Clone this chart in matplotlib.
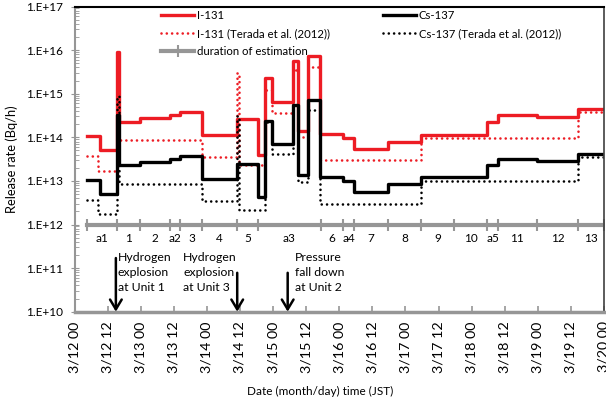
"""
Release rate of I-131 and Cs-137, March 2011 (step chart, log scale)
"""
import matplotlib

matplotlib.use("Agg")
import matplotlib.pyplot as plt
import numpy as np
from matplotlib.ticker import FuncFormatter, LogLocator, NullFormatter

plt.rcParams["font.family"] = ["Lato", "DejaVu Sans"]

# ==========================================================
# Data (time in hours from 3/12 00:00 JST, rate in Bq/h)
# ==========================================================
END_HOUR = 192

i131_t = [4.6, 9.4, 15.4, 16.1, 23.8, 34.6, 38.4, 46.4, 58.8, 66.5, 69.2, 71.6,
          79.1, 81.0, 84.6, 89.2, 97.4, 101.5, 113.6, 125.6, 137.6, 149.6,
          153.6, 167.6, 182.6]
i131_v = [1.05e14, 5.1e13, 8.9e15, 2.3e14, 2.7e14, 3.3e14, 3.9e14, 1.1e14,
          2.6e14, 3.9e13, 2.3e15, 6.6e14, 5.5e15, 1.4e14, 7.4e15, 1.2e14,
          9.5e13, 5.3e13, 7.9e13, 1.15e14, 1.1e14, 2.3e14, 3.2e14, 2.95e14,
          4.4e14]

cs137_t = [4.6, 9.2, 15.4, 16.1, 23.8, 34.6, 38.4, 46.4, 58.8, 66.5, 69.2,
           71.6, 79.1, 81.0, 84.6, 89.2, 97.4, 101.5, 113.6, 125.6, 149.6,
           153.6, 167.6, 182.6]
cs137_v = [1.05e13, 4.9e12, 3.2e14, 2.3e13, 2.7e13, 3.1e13, 3.7e13, 1.1e13,
           2.5e13, 4.2e12, 2.4e14, 7.0e13, 5.5e14, 1.4e13, 7.3e14, 1.2e13,
           1.0e13, 5.6e12, 8.3e12, 1.2e13, 2.3e13, 3.2e13, 2.9e13, 4.1e13]

i131_terada_t = [4.6, 8.6, 15.4, 46.4, 58.8, 59.5, 69.2, 71.6, 79.1, 81.0,
                 84.6, 89.2, 125.6, 182.6]
i131_terada_v = [3.7e13, 1.7e13, 8.7e13, 3.6e13, 3.0e15, 2.3e13, 1.2e15,
                 3.6e14, 3.5e15, 1.0e14, 4.0e15, 3.0e13, 9.7e13, 3.9e14]

cs137_terada_t = [4.6, 8.6, 15.4, 16.1, 46.4, 58.8, 59.5, 69.2, 71.6, 79.1,
                  81.0, 84.6, 89.2, 125.6, 182.6]
cs137_terada_v = [3.7e12, 1.7e12, 9.0e14, 8.4e12, 3.5e12, 3.1e14, 2.2e12,
                  2.2e14, 4.1e13, 4.0e14, 9.5e12, 4.3e14, 3.0e12, 1.0e13,
                  3.6e13]

# estimation periods
seg_bounds = [4.6, 15.4, 23.8, 34.6, 38.4, 46.4, 58.8, 66.5, 89.4, 97.4, 101.5,
              113.6, 125.6, 137.6, 149.6, 153.6, 167.6, 182.6, END_HOUR]
seg_labels = ["a1", "1", "2", "a2", "3", "4", "5", "a3", "6", "a4", "7", "8",
              "9", "10", "a5", "11", "12", "13"]

tick_hours = list(range(0, END_HOUR + 1, 12))
tick_labels = ["3/12 00", "3/12 12", "3/13 00", "3/13 12", "3/14 00",
               "3/14 12", "3/15 00", "3/15 12", "3/16 00", "3/16 12",
               "3/17 00", "3/17 12", "3/18 00", "3/18 12", "3/19 00",
               "3/19 12", "3/20 00"]

event_t = [15.0, 59.0, 77.3]
event_text = ["Hydrogen\nexplosion\nat Unit 1", "Hydrogen\nexplosion\nat Unit 3",
              "Pressure\nfall down\nat Unit 2"]

# layout only
event_text_x = [15.7, 39.4, 80.0]
event_arrow_top = [1.7e11, 7.8e10, 7.8e10]

RED = "#ED1C24"
GRAY = "#969696"
FS = 8.5


def steps(t, v):
    return list(t) + [END_HOUR], list(v) + [v[-1]]


# ==========================================================
# Figure
# ==========================================================
fig = plt.figure(figsize=(6.06, 4.03), dpi=100)
ax = fig.add_axes([74.5 / 606, 1 - 311.7 / 403, 529.5 / 606, 305.2 / 403])

dot = (0, (0.01, 2.0))

(l_i,) = ax.step(*steps(i131_t, i131_v), where="post", color=RED, lw=2.4,
                 label="I-131")
(l_it,) = ax.step(*steps(i131_terada_t, i131_terada_v), where="post",
                  color=RED, lw=1.9, linestyle=dot, dash_capstyle="round",
                  label="I-131 (Terada et al. (2012))")
(l_c,) = ax.step(*steps(cs137_t, cs137_v), where="post", color="black",
                 lw=2.4, label="Cs-137")
(l_ct,) = ax.step(*steps(cs137_terada_t, cs137_terada_v), where="post",
                  color="black", lw=1.9, linestyle=dot, dash_capstyle="round",
                  label="Cs-137 (Terada et al. (2012))")

# duration of estimation bar
(l_d,) = ax.plot(seg_bounds, [1e12] * len(seg_bounds), color=GRAY, lw=3,
                 marker="|", markersize=8, markeredgewidth=1.5,
                 label="duration of estimation")
for a, b, lab in zip(seg_bounds[:-1], seg_bounds[1:], seg_labels):
    ax.text((a + b) / 2, 4.9e11, lab, ha="center", va="center", fontsize=FS)

# events
for t, txt, tx, top in zip(event_t, event_text, event_text_x, event_arrow_top):
    ax.annotate("", xy=(t, 1e10), xytext=(t, top),
                arrowprops=dict(arrowstyle="->,head_length=0.5,head_width=0.3",
                                lw=1.8, color="black", shrinkA=0, shrinkB=0,
                                mutation_scale=14))
    ax.text(tx, 2.4e11, txt, ha="left", va="top", fontsize=FS + 0.3,
            linespacing=1.45)

# axes
ax.set_yscale("log")
ax.set_ylim(1e10, 1e17)
ax.set_xlim(0, 190.6)
ax.yaxis.set_major_locator(LogLocator(base=10, numticks=10))
ax.yaxis.set_major_formatter(
    FuncFormatter(lambda v, p: "1.E+%02d" % round(np.log10(v))))
ax.yaxis.set_minor_locator(LogLocator(base=10, subs=np.arange(2, 10),
                                      numticks=20))
ax.yaxis.set_minor_formatter(NullFormatter())
ax.tick_params(axis="y", which="major", direction="inout", length=6,
               color=GRAY, labelsize=FS, pad=5)
ax.tick_params(axis="y", which="minor", direction="in", length=3, color=GRAY)

ax.set_xticks(tick_hours, tick_labels, rotation=90)
ax.tick_params(axis="x", direction="in", length=4, width=1.2, color=GRAY,
               labelsize=10.3, pad=7)

for side, col, lw in [("left", GRAY, 1.5), ("bottom", GRAY, 2.5),
                      ("top", "black", 1.5), ("right", "#404040", 1.2)]:
    ax.spines[side].set_color(col)
    ax.spines[side].set_linewidth(lw)

ax.set_ylabel("Release rate (Bq/h)", fontsize=9.3)
ax.yaxis.set_label_coords(-0.106, 0.5)
ax.set_xlabel("Date (month/day) time (JST)", fontsize=FS)
ax.xaxis.set_label_coords(0.4636, -0.242)

# legends
leg_kw = dict(loc="upper left", bbox_transform=fig.transFigure, frameon=False,
              borderpad=0, borderaxespad=0, handlelength=2.9,
              handletextpad=0.25, labelspacing=0.62, fontsize=8.2)
leg1 = ax.legend([l_i, l_it, l_d], [l_i.get_label(), l_it.get_label(),
                                    l_d.get_label()],
                 bbox_to_anchor=(161 / 606, 1 - 10 / 403), **leg_kw)
ax.add_artist(leg1)
ax.legend([l_c, l_ct], [l_c.get_label(), l_ct.get_label()],
          bbox_to_anchor=(383 / 606, 1 - 10 / 403), **leg_kw)

fig.savefig("out.png", dpi=100)
